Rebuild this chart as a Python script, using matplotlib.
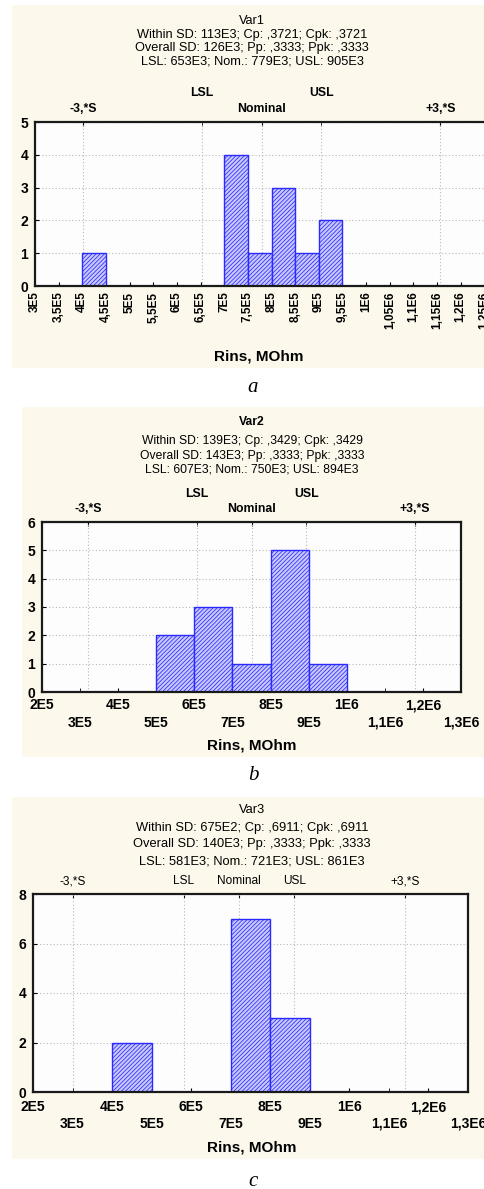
import numpy as np
import matplotlib
matplotlib.use("Agg")
import matplotlib.pyplot as plt
from matplotlib.patches import Rectangle

plt.rcParams['font.family'] = ['Liberation Sans', 'DejaVu Sans']
plt.rcParams['hatch.color'] = '#2a2aff'
plt.rcParams['hatch.linewidth'] = 0.55

W, H = 484, 1189
CREAM = '#fcf9ec'
BAR_FACE = '#c8c8fc'
BAR_EDGE = '#2a2aff'

# ---- data ----
var1_left = [4.0e5, 7.0e5, 7.5e5, 8.0e5, 8.5e5, 9.0e5]
var1_count = [1, 4, 1, 3, 1, 2]
var1_width = 0.5e5
var1_title = ["Var1",
              "Within SD: 113E3; Cp: ,3721; Cpk: ,3721",
              "Overall SD: 126E3; Pp: ,3333; Ppk: ,3333",
              "LSL: 653E3; Nom.: 779E3; USL: 905E3"]
var1_ticks = [3.0e5, 3.5e5, 4.0e5, 4.5e5, 5.0e5, 5.5e5, 6.0e5, 6.5e5, 7.0e5, 7.5e5,
              8.0e5, 8.5e5, 9.0e5, 9.5e5, 1.0e6, 1.05e6, 1.1e6, 1.15e6, 1.2e6,
              1.25e6, 1.3e6]
var1_ticklabels = ['3E5', '3,5E5', '4E5', '4,5E5', '5E5', '5,5E5', '6E5', '6,5E5',
                   '7E5', '7,5E5', '8E5', '8,5E5', '9E5', '9,5E5', '1E6', '1,05E6',
                   '1,1E6', '1,15E6', '1,2E6', '1,25E6', '1,3E6']

var2_left = [5.0e5, 6.0e5, 7.0e5, 8.0e5, 9.0e5]
var2_count = [2, 3, 1, 5, 1]
var2_width = 1.0e5
var2_title = ["Var2",
              "Within SD: 139E3; Cp: ,3429; Cpk: ,3429",
              "Overall SD: 143E3; Pp: ,3333; Ppk: ,3333",
              "LSL: 607E3; Nom.: 750E3; USL: 894E3"]

var3_left = [4.0e5, 7.0e5, 8.0e5]
var3_count = [2, 7, 3]
var3_width = 1.0e5
var3_title = ["Var3",
              "Within SD: 675E2; Cp: ,6911; Cpk: ,6911",
              "Overall SD: 140E3; Pp: ,3333; Ppk: ,3333",
              "LSL: 581E3; Nom.: 721E3; USL: 861E3"]

# staggered bottom labels for Var2 / Var3
bc_ticks_even = [2e5, 4e5, 6e5, 8e5, 1.0e6, 1.2e6]
bc_labels_even = ['2E5', '4E5', '6E5', '8E5', '1E6', '1,2E6']
bc_ticks_odd = [3e5, 5e5, 7e5, 9e5, 1.1e6, 1.3e6]
bc_labels_odd = ['3E5', '5E5', '7E5', '9E5', '1,1E6', '1,3E6']

# spec lines: -3S, LSL, Nominal, USL, +3S
spec_names = ['-3,*S', 'LSL', 'Nominal', 'USL', '+3,*S']
var1_spec = [401e3, 653e3, 779e3, 905e3, 1157e3]
var2_spec = [321e3, 607e3, 750e3, 894e3, 1179e3]
var3_spec = [301e3, 581e3, 721e3, 861e3, 1141e3]


def box(l, t, r, b):
    return [l / W, 1 - b / H, (r - l) / W, (b - t) / H]


def cream(fig, l, t, r, b):
    fig.add_artist(Rectangle((l / W, 1 - b / H), (r - l) / W, (b - t) / H,
                             transform=fig.transFigure, facecolor=CREAM,
                             edgecolor='none', zorder=-1))


def heading(fig, lines, ys, bold_title, size):
    for i, (s, y) in enumerate(zip(lines, ys)):
        w = 'bold' if (i == 0 and bold_title) else 'normal'
        fig.text(252 / W, 1 - y / H, s, ha='center', va='center',
                 fontsize=size, fontweight=w)


def hist_panel(ax, left, count, width, spec, ylim, yticks, split, pads, top_bold):
    ax.set_facecolor('#fdfdfd')
    ax.bar(left, count, width=width, align='edge', facecolor=BAR_FACE,
           edgecolor=BAR_EDGE, hatch='////////', linewidth=1.0, zorder=2)
    ax.set_ylim(*ylim)
    ax.set_yticks(yticks)
    ax.set_yticklabels([str(v) for v in yticks], fontweight='bold', fontsize=10)
    ax.yaxis.grid(True, color='#b8b8b8', linestyle=(0, (1, 2)), linewidth=0.8)
    ax.set_axisbelow(True)
    for x in spec:
        ax.axvline(x, color='#b8b8b8', linestyle=(0, (1, 2)), linewidth=0.8, zorder=0.5)
    for s in ax.spines.values():
        s.set_color('#1a1a1a')
        s.set_linewidth(1.6)
    ax.tick_params(axis='y', direction='in', length=3, pad=5)
    ax.tick_params(axis='x', which='both', direction='in', length=3)

    sec = ax.secondary_xaxis('top')
    w = 'bold' if top_bold else 'normal'
    fs = 8.8 if top_bold else 8.6
    low = [i for i in range(5) if i not in split]
    sec.set_xticks([spec[i] for i in low], labels=[spec_names[i] for i in low])
    if split:
        sec.set_xticks([spec[i] for i in split],
                       labels=[spec_names[i] for i in split], minor=True)
    sec.tick_params(which='major', direction='in', length=3, pad=pads[0])
    sec.tick_params(which='minor', direction='in', length=3, pad=pads[1])
    for t in sec.get_xticklabels(which='both'):
        t.set_fontweight(w)
        t.set_fontsize(fs)
    sec.spines['top'].set_visible(False)
    return sec


fig = plt.figure(figsize=(W / 100, H / 100), dpi=100)
fig.patch.set_facecolor('white')

# ---------------- panel a ----------------
cream(fig, 12, 5, 484, 368)
heading(fig, var1_title, [21, 35, 48, 62], False, 9.2)
ax1 = fig.add_axes(box(35, 122, 508, 286))
ax1.set_xlim(3e5, 1.3e6)
ax1.set_xticks(var1_ticks)
ax1.set_xticklabels(var1_ticklabels, rotation=90, fontweight='bold', fontsize=8.5)
ax1.tick_params(axis='x', pad=4)
hist_panel(ax1, var1_left, var1_count, var1_width, var1_spec, (0, 5),
           [0, 1, 2, 3, 4, 5], [1, 3], (5, 16.5), True)
ax1.set_xlabel('Rins, MOhm', fontweight='bold', fontsize=11)
ax1.xaxis.label.set_va('center')
# centre label on the visible figure width, not the overflowing axes
ax1.xaxis.set_label_coords((259 - 35) / 473, -(356 - 286) / 164)
fig.text(253 / W, 1 - 388 / H, 'a', ha='center', va='center', fontsize=15,
         family='Liberation Serif', style='italic')

# ---------------- panel b ----------------
cream(fig, 22, 407, 484, 757)
heading(fig, var2_title, [422, 441, 456, 470], True, 8.7)
ax2 = fig.add_axes(box(42, 522, 461, 692))
ax2.set_xlim(2e5, 1.3e6)
ax2.set_xticks(bc_ticks_even, labels=bc_labels_even)
ax2.set_xticks(bc_ticks_odd, labels=bc_labels_odd, minor=True)
ax2.tick_params(axis='x', which='major', pad=4.5)
ax2.tick_params(axis='x', which='minor', pad=17)
for t in ax2.get_xticklabels(which='both'):
    t.set_fontweight('bold')
    t.set_fontsize(10)
hist_panel(ax2, var2_left, var2_count, var2_width, var2_spec, (0, 6),
           [0, 1, 2, 3, 4, 5, 6], [1, 3], (5, 16), True)
ax2.set_xlabel('Rins, MOhm', fontweight='bold', fontsize=11)
ax2.xaxis.label.set_va('center')
ax2.xaxis.set_label_coords((252 - 42) / 419, -(745 - 692) / 170)
fig.text(253 / W, 1 - 775 / H, 'b', ha='center', va='center', fontsize=15,
         family='Liberation Serif', style='italic')

# ---------------- panel c ----------------
cream(fig, 12, 797, 484, 1159)
heading(fig, var3_title, [810, 828, 844, 861], False, 9.3)
ax3 = fig.add_axes(box(33, 894, 468, 1092))
ax3.set_xlim(2e5, 1.3e6)
ax3.set_xticks(bc_ticks_even, labels=bc_labels_even)
ax3.set_xticks(bc_ticks_odd, labels=bc_labels_odd, minor=True)
ax3.tick_params(axis='x', which='major', pad=6)
ax3.tick_params(axis='x', which='minor', pad=18)
for t in ax3.get_xticklabels(which='both'):
    t.set_fontweight('bold')
    t.set_fontsize(10)
hist_panel(ax3, var3_left, var3_count, var3_width, var3_spec, (0, 8),
           [0, 2, 4, 6, 8], [], (5, 5), False)
ax3.set_xlabel('Rins, MOhm', fontweight='bold', fontsize=11)
ax3.xaxis.label.set_va('center')
ax3.xaxis.set_label_coords((252 - 33) / 435, -(1148 - 1092) / 198)
fig.text(253 / W, 1 - 1181 / H, 'c', ha='center', va='center', fontsize=15,
         family='Liberation Serif', style='italic')

fig.savefig('out.png', dpi=100)
